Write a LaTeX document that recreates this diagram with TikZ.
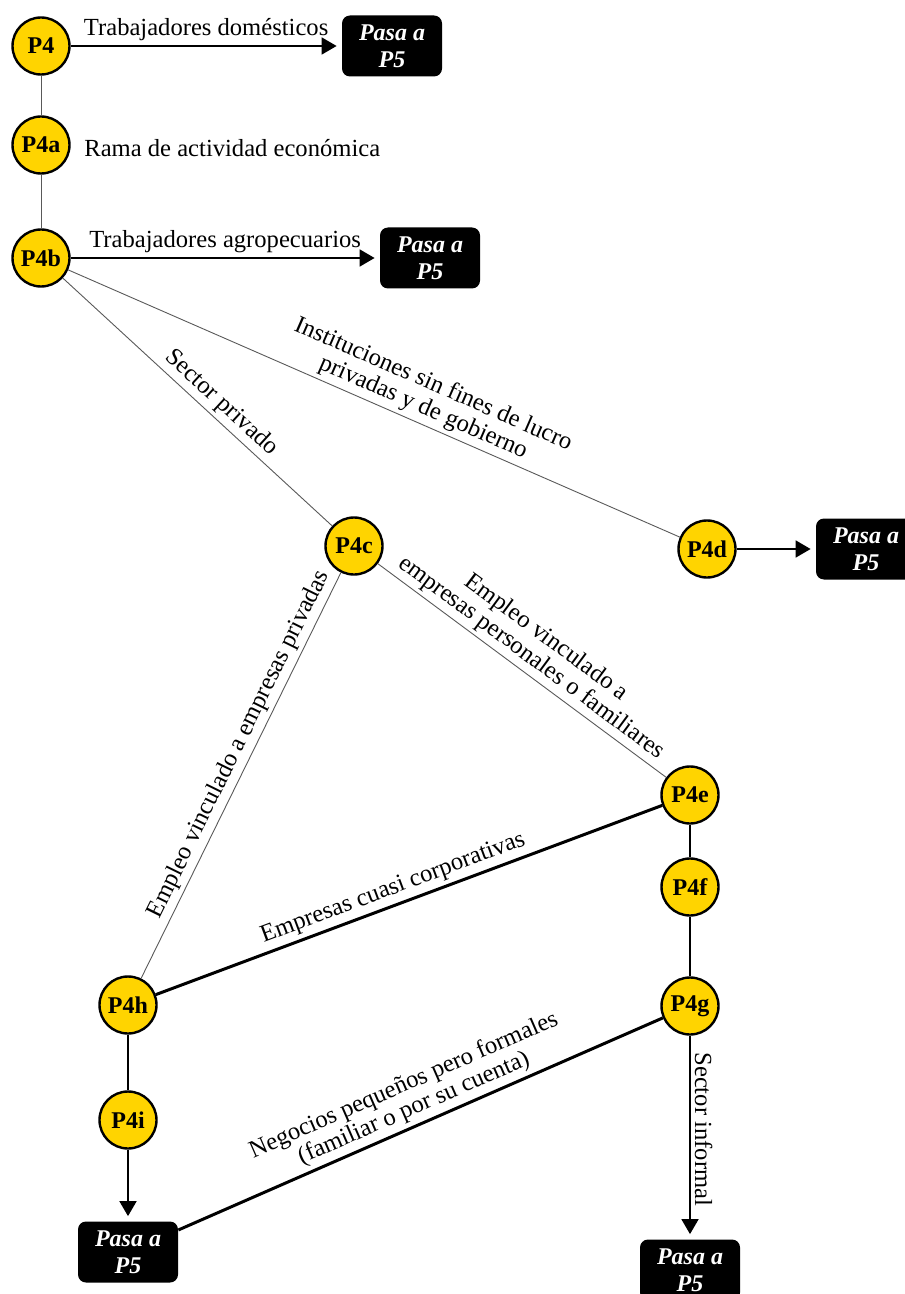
\documentclass[tikz,border=0pt]{standalone}
\usepackage{fontspec}
\setmainfont{Liberation Serif}
\usetikzlibrary{arrows.meta}
\definecolor{questionYellow}{RGB}{255,212,0}

\begin{document}
\begin{tikzpicture}
[x=0.5pt,y=-0.5pt,
  thinLine/.style={draw=black!65,line width=0.45pt},%
  midLine/.style={draw=black,line width=1pt},%
  thickLine/.style={draw=black,line width=1.5pt},%
  flowArrow/.style={->,>={Triangle[length=7.5pt,width=8.5pt]},draw=black,line width=0.9pt,shorten >=2.5pt},%
  questionNode/.style={shape=circle,inner sep=0pt,minimum size=28.5pt,draw,line width=1.2pt,fill=questionYellow,font=\fontsize{12}{12}\selectfont\bfseries},%
  passBox/.style={shape=rectangle,rounded corners=4pt,fill=black,text=white,minimum width=50pt,minimum height=30.5pt,align=center,inner sep=1pt,font=\fontsize{12}{13.5}\selectfont\bfseries\itshape},%
  edgeLabel/.style={font=\fontsize{12.3}{12.5}\selectfont,inner sep=2pt,align=center}]
\useasboundingbox (0,0) rectangle (904,1294);
%% question nodes
\foreach \nodename/\x/\y in {P4/41/46, P4a/41/145, P4b/41/258, P4c/354/546, P4d/707/549,
  P4e/690/795, P4f/690/887, P4g/690/1006, P4h/128/1005, P4i/128/1120}
{
  \node (\nodename) at (\x,\y) [questionNode] {\nodename};
}
%% exit boxes
\foreach \boxname/\x/\y in {pasaP4/392/46, pasaP4b/430/258, pasaP4d/866/549, pasaP4i/128/1252, pasaP4g/690/1270}
{
  \node (\boxname) at (\x,\y) [passBox] {Pasa a\\P5};
}
\node (rama) at (80,148) [edgeLabel,anchor=west] {Rama de actividad económica};
%% thin lines
\path
\foreach \startnode/\endnode in {P4/P4a, P4a/P4b}
{
  (\startnode) edge[thinLine] (\endnode)
}
\foreach \startnode/\endnode/\where/\labeltext in {
  P4b/P4c/0.55/{Sector privado},
  P4b/P4d/0.57/{Instituciones sin fines de lucro\\privadas y de gobierno},
  P4h/P4c/0.56/{Empleo vinculado a empresas privadas},
  P4c/P4e/0.5/{Empleo vinculado a\\empresas personales o familiares}}
{
  (\startnode) edge[thinLine] node[edgeLabel,sloped,above,pos=\where] {\labeltext} (\endnode)
}
%% thick lines
\foreach \startnode/\endnode in {P4e/P4f, P4f/P4g, P4h/P4i}
{
  (\startnode) edge[midLine] (\endnode)
}
\foreach \startnode/\endnode/\where/\labeltext in {
  P4h/P4e/0.48/{Empresas cuasi corporativas},
  pasaP4i/P4g/0.5/{Negocios pequeños pero formales\\(familiar o por su cuenta)}}
{
  (\startnode) edge[thickLine] node[edgeLabel,sloped,above,pos=\where] {\labeltext} (\endnode)
}
%% arrows to P5
\foreach \startnode/\endnode in {P4d/pasaP4d, P4i/pasaP4i}
{
  (\startnode) edge[flowArrow] (\endnode)
}
\foreach \startnode/\endnode/\labeltext in {P4/pasaP4/Trabajadores domésticos, P4b/pasaP4b/Trabajadores agropecuarios}
{
  (\startnode) edge[flowArrow] node[edgeLabel,above,midway] {\labeltext} (\endnode)
}
(P4g) edge[flowArrow] node[edgeLabel,pos=0.46,rotate=-90,anchor=south] {Sector informal} (pasaP4g);
\end{tikzpicture}
\end{document}
